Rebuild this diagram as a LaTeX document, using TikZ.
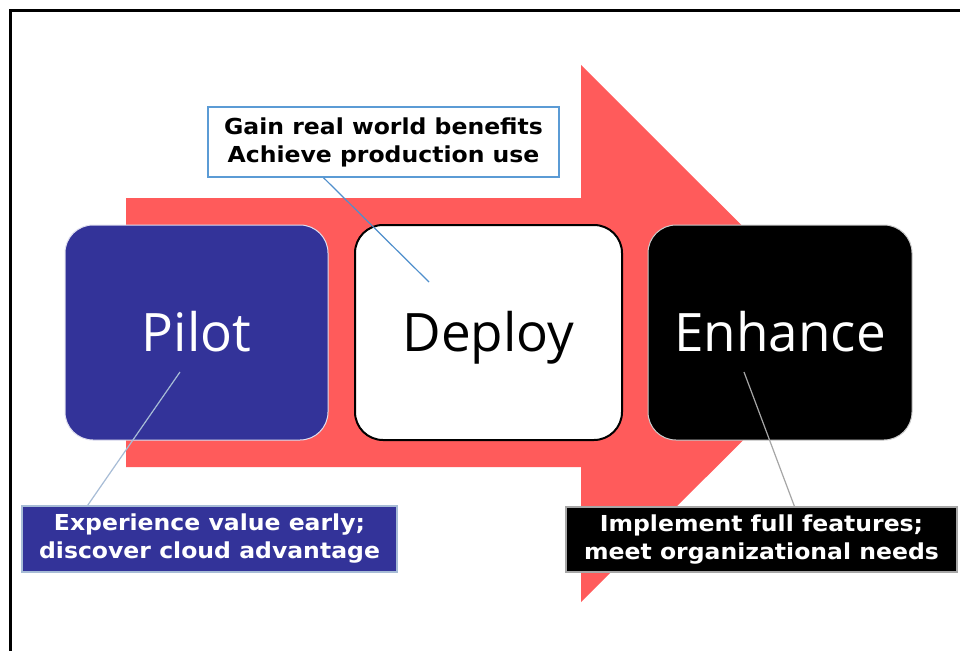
\documentclass[tikz,border=0pt]{standalone}
\usepackage{fontspec}
\usetikzlibrary{calc}
\newfontfamily\labfont{Open Sans}
\newfontfamily\callfont[FakeStretch=1.07]{DejaVu Sans}
\definecolor{arrowred}{HTML}{FF5B5B}
\definecolor{pilotblue}{HTML}{333399}
\definecolor{callblue}{HTML}{5B9BD5}
\definecolor{lineblue}{HTML}{4F8FCC}
\definecolor{pilotline}{HTML}{A7BCD6}
\definecolor{enhline}{HTML}{A6A6A6}
\tikzset{
  phase/.style={rounded corners=28pt, minimum width=#1, minimum height=215pt,
    inner sep=0pt, text height=38pt, text depth=0pt,
    font=\labfont\fontsize{53}{60}\selectfont},
  callout/.style={minimum width=#1, inner sep=0pt, align=center,
    font=\callfont\bfseries\fontsize{22}{28}\selectfont},
}
\begin{document}
\begin{tikzpicture}[x=1pt,y=-1pt]
\useasboundingbox (0,0) rectangle (960,650);
\clip (0,0) rectangle (960,650);
\fill[white] (0,0) rectangle (960,650);
% outer frame
\draw[line width=3.5pt] (10.5,10.5) rectangle (990,690);
% big arrow
\fill[arrowred] (126,198) -- (581,198) -- (581,65) -- (850,333.5) -- (581,602)
  -- (581,467) -- (126,467) -- cycle;
% phase boxes
\node[phase=263pt, fill=pilotblue, draw=white!85!pilotblue, line width=1pt, text=white]
  (pilot) at (196.5,332.5) {Pilot};
\node[phase=267pt, fill=white, draw=black, line width=2pt, text=black]
  (deploy) at (488.5,332.5) {Deploy};
\node[phase=264pt, fill=black, draw=white!80!black, line width=1pt, text=white]
  (enhance) at (780,332.5) {Enhance};
% callouts
\node[callout=351pt, minimum height=70pt, fill=white, draw=callblue, line width=1.5pt, text=black]
  (dcall) at (383.5,142) {Gain real world benefits\\Achieve production use};
\node[callout=375pt, minimum height=66pt, fill=pilotblue, draw=pilotline, line width=1.2pt, text=white]
  (pcall) at (209.5,539) {Experience value early;\\discover cloud advantage};
\node[callout=391pt, minimum height=65pt, fill=black, draw=enhline, line width=1.2pt, text=white]
  (ecall) at (761.5,539.5) {Implement full features;\\meet organizational needs};
% connector end points
\coordinate (dpt) at (429,282);
\coordinate (ppt) at (180,372);
\coordinate (ept) at (744,372);
\draw[lineblue, line width=1.2pt] ($(dcall.south west)!0.33!(dcall.south east)$) -- (dpt);
\draw[pilotline, line width=1.2pt] ($(pcall.north west)!0.176!(pcall.north east)$) -- (ppt);
\draw[enhline, line width=1.2pt] ($(ecall.north west)!0.584!(ecall.north east)$) -- (ept);
\end{tikzpicture}
\end{document}
